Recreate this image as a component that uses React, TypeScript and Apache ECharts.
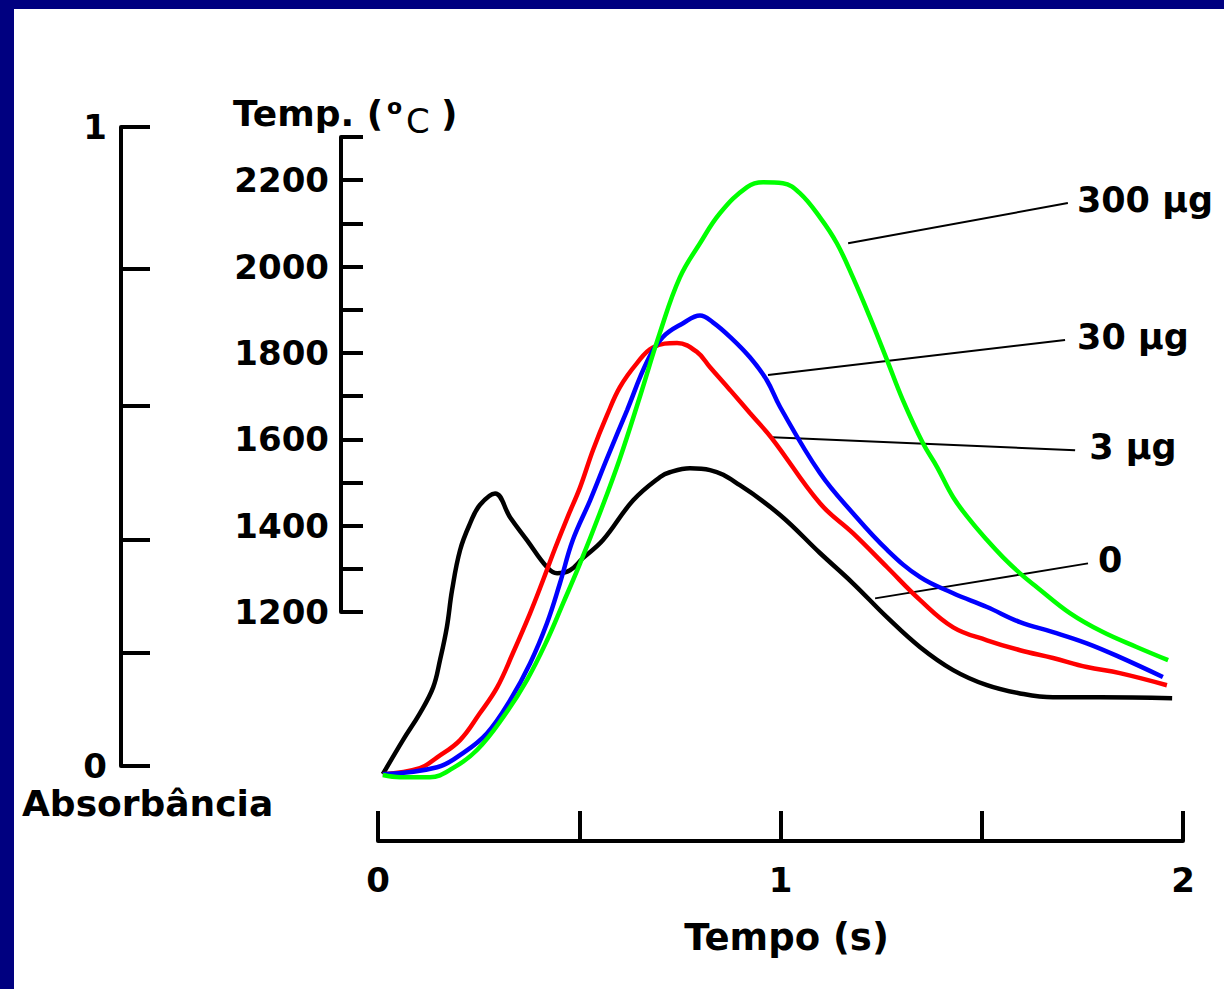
import React, { useEffect, useRef } from "react";
import * as echarts from "echarts";

const FONT = '"DejaVu Sans", "Noto Sans", sans-serif';

// Axis ticks / labels
const timeTicks = [0, 0.5, 1, 1.5, 2];
const timeLabels = [0, 1, 2];
const tempLabels = [1200, 1400, 1600, 1800, 2000, 2200];
const absTicks = [0, 0.177, 0.354, 0.563, 0.778, 1];
const absLabels = [0, 1];

// Series (time in s, value on the temperature scale)
const seriesNames = ["0", "3 \u00b5g", "30 \u00b5g", "300 \u00b5g"];
const seriesColors = ["#000000", "#ff0000", "#0000ff", "#00ff00"];

const curve0: [number, number][] = [
  [0.012, 825], [0.062, 904], [0.104, 966], [0.137, 1026], [0.154, 1089],
  [0.171, 1165], [0.184, 1251], [0.204, 1344], [0.229, 1406], [0.253, 1448],
  [0.291, 1475], [0.328, 1420], [0.37, 1367], [0.42, 1304], [0.445, 1290],
  [0.477, 1297], [0.509, 1325], [0.559, 1367], [0.634, 1459], [0.701, 1513],
  [0.725, 1524], [0.775, 1533], [0.825, 1529], [0.899, 1494], [0.999, 1425],
  [1.098, 1337], [1.18, 1267], [1.265, 1188], [1.347, 1119], [1.429, 1066],
  [1.513, 1031], [1.595, 1012], [1.677, 1003], [1.794, 1003], [1.973, 1001],
];

const curve3: [number, number][] = [
  [0.012, 825], [0.104, 839], [0.147, 864], [0.204, 904], [0.253, 966],
  [0.296, 1026], [0.335, 1105], [0.378, 1198], [0.41, 1274], [0.44, 1348],
  [0.47, 1418], [0.502, 1489], [0.534, 1575], [0.569, 1656], [0.601, 1721],
  [0.643, 1776], [0.683, 1813], [0.743, 1823], [0.793, 1802], [0.825, 1767],
  [0.875, 1714], [0.924, 1661], [0.979, 1602], [1.098, 1452], [1.18, 1383],
  [1.265, 1304], [1.347, 1228], [1.429, 1165], [1.513, 1135], [1.595, 1112],
  [1.677, 1094], [1.761, 1073], [1.843, 1059], [1.96, 1031],
];

const curve30: [number, number][] = [
  [0.012, 825], [0.147, 841], [0.211, 874], [0.271, 920], [0.328, 996],
  [0.378, 1082], [0.42, 1175], [0.452, 1267], [0.484, 1367], [0.527, 1459],
  [0.569, 1556], [0.619, 1668], [0.668, 1779], [0.708, 1837], [0.758, 1869],
  [0.8, 1887], [0.832, 1871], [0.875, 1837], [0.924, 1790], [0.966, 1737],
  [0.999, 1675], [1.098, 1522], [1.18, 1429], [1.265, 1344], [1.347, 1281],
  [1.429, 1244], [1.513, 1212], [1.595, 1177], [1.677, 1154], [1.761, 1128],
  [1.843, 1096], [1.95, 1050],
];

const curve300: [number, number][] = [
  [0.012, 823], [0.055, 818], [0.129, 818], [0.186, 839], [0.246, 881],
  [0.311, 957], [0.37, 1043], [0.42, 1135], [0.46, 1221], [0.502, 1313],
  [0.551, 1429], [0.601, 1556], [0.651, 1700], [0.7, 1846],
  [0.75, 1975], [0.8, 2054], [0.85, 2124], [0.917, 2184], [0.957, 2195],
  [1.006, 2193], [1.048, 2170], [1.098, 2114], [1.14, 2054], [1.18, 1975],
  [1.222, 1883], [1.265, 1783], [1.304, 1691], [1.354, 1591], [1.389, 1536],
  [1.429, 1466], [1.471, 1413], [1.513, 1367], [1.553, 1327], [1.595, 1290],
  [1.637, 1258], [1.719, 1198], [1.801, 1154], [1.886, 1119], [1.963, 1089],
];

// Leader lines (start on curve, end at label)
const leader0: [number, number][] = [[1.235, 1232], [1.764, 1313]];
const leader3: [number, number][] = [[0.979, 1605], [1.732, 1575]];
const leader30: [number, number][] = [[0.969, 1749], [1.707, 1830]];
const leader300: [number, number][] = [[1.168, 2054], [1.714, 2147]];

const curves = [curve0, curve3, curve30, curve300];
const leaders = [leader0, leader3, leader30, leader300];
const labelGaps = [10, 14, 12, 9];

export default function App() {
  const ref = useRef<HTMLDivElement>(null);

  useEffect(() => {
    if (!ref.current) return;
    const chart = echarts.init(ref.current, undefined, { renderer: "svg" });
    const axisLineStyle = { color: "#000", width: 4 };
    const labelStyle = {
      fontFamily: FONT,
      fontWeight: "bold" as const,
      fontSize: 34,
      color: "#000",
      formatter: (v: number) => String(v),
    };

    const curveSeries = curves.map((d, i) => ({
      type: "line",
      name: seriesNames[i],
      xAxisIndex: 2,
      yAxisIndex: 2,
      data: d,
      showSymbol: false,
      symbol: "none",
      smooth: 0.4,
      lineStyle: { color: seriesColors[i], width: 4.5 },
      z: 3,
    }));

    const leaderSeries = leaders.map((d, i) => ({
      type: "line",
      name: "leader " + seriesNames[i],
      xAxisIndex: 2,
      yAxisIndex: 2,
      data: d,
      showSymbol: false,
      symbol: "none",
      lineStyle: { color: "#000", width: 2 },
      z: 2,
      endLabel: {
        show: true,
        formatter: () => seriesNames[i],
        distance: labelGaps[i],
        offset: [0, -3],
        fontFamily: FONT,
        fontWeight: "bold",
        fontSize: 35,
        color: "#000",
      },
    }));

    chart.setOption({
      animation: false,
      backgroundColor: "#ffffff",
      grid: [
        { left: 121, top: 127, width: 40, height: 639 },
        { left: 341, top: 137, width: 40, height: 475 },
        { left: 378, top: 137, width: 805, height: 648 },
        { left: 378, top: 800, width: 805, height: 41 },
      ],
      xAxis: [
        { gridIndex: 0, type: "value", show: false, min: 0, max: 1 },
        { gridIndex: 1, type: "value", show: false, min: 0, max: 1 },
        { gridIndex: 2, type: "value", show: false, min: 0, max: 2 },
        {
          gridIndex: 3,
          type: "value",
          min: 0,
          max: 2,
          interval: 0.5,
          position: "bottom",
          axisLine: { show: true, lineStyle: axisLineStyle },
          axisTick: {
            show: true,
            inside: true,
            length: 30,
            customValues: timeTicks,
            lineStyle: axisLineStyle,
          },
          axisLabel: {
            customValues: timeLabels,
            margin: 22,
            ...labelStyle,
          },
          splitLine: { show: false },
          name: "Tempo (s)",
          nameLocation: "middle",
          nameGap: 78,
          nameTextStyle: {
            fontFamily: FONT,
            fontWeight: "bold",
            fontSize: 37,
            color: "#000",
            padding: [0, 0, 0, 12],
          },
        },
      ],
      yAxis: [
        {
          gridIndex: 0,
          type: "value",
          min: 0,
          max: 1,
          position: "left",
          axisLine: { show: true, lineStyle: axisLineStyle },
          axisTick: {
            show: true,
            inside: true,
            length: 29,
            customValues: absTicks,
            lineStyle: axisLineStyle,
          },
          axisLabel: { customValues: absLabels, margin: 14, ...labelStyle },
          splitLine: { show: false },
        },
        {
          gridIndex: 1,
          type: "value",
          min: 1200,
          max: 2300,
          interval: 100,
          position: "left",
          axisLine: { show: true, lineStyle: axisLineStyle },
          axisTick: {
            show: true,
            inside: true,
            length: 22,
            lineStyle: axisLineStyle,
          },
          axisLabel: { customValues: tempLabels, margin: 12, ...labelStyle },
          splitLine: { show: false },
        },
        { gridIndex: 2, type: "value", show: false, min: 800, max: 2300 },
        { gridIndex: 3, type: "value", show: false, min: 0, max: 1 },
      ],
      graphic: [
        { type: "rect", shape: { x: 0, y: 0, width: 1224, height: 9 }, style: { fill: "#000080" } },
        { type: "rect", shape: { x: 0, y: 0, width: 14, height: 989 }, style: { fill: "#000080" } },
        {
          type: "text",
          x: 22,
          y: 803,
          style: {
            text: "Absorb\u00e2ncia",
            font: `bold 36px ${FONT}`,
            fill: "#000",
            textAlign: "left",
            textVerticalAlign: "middle",
          },
        },
        {
          type: "text",
          x: 233,
          y: 113,
          style: {
            text: "Temp. (",
            font: `bold 36px ${FONT}`,
            fill: "#000",
            textAlign: "left",
            textVerticalAlign: "middle",
          },
        },
        {
          type: "text",
          x: 387,
          y: 106,
          style: {
            text: "o",
            font: `bold 22px ${FONT}`,
            fill: "#000",
            textAlign: "left",
            textVerticalAlign: "middle",
          },
        },
        {
          type: "text",
          x: 406,
          y: 121,
          style: {
            text: "C",
            font: `34px ${FONT}`,
            fill: "#000",
            textAlign: "left",
            textVerticalAlign: "middle",
          },
        },
        {
          type: "text",
          x: 441,
          y: 113,
          style: {
            text: ")",
            font: `bold 36px ${FONT}`,
            fill: "#000",
            textAlign: "left",
            textVerticalAlign: "middle",
          },
        },
      ],
      series: [...leaderSeries, ...curveSeries],
    });

    return () => chart.dispose();
  }, []);

  return (
    <div
      ref={ref}
      style={{ position: "absolute", left: 0, top: 0, width: 1224, height: 989 }}
    />
  );
}
